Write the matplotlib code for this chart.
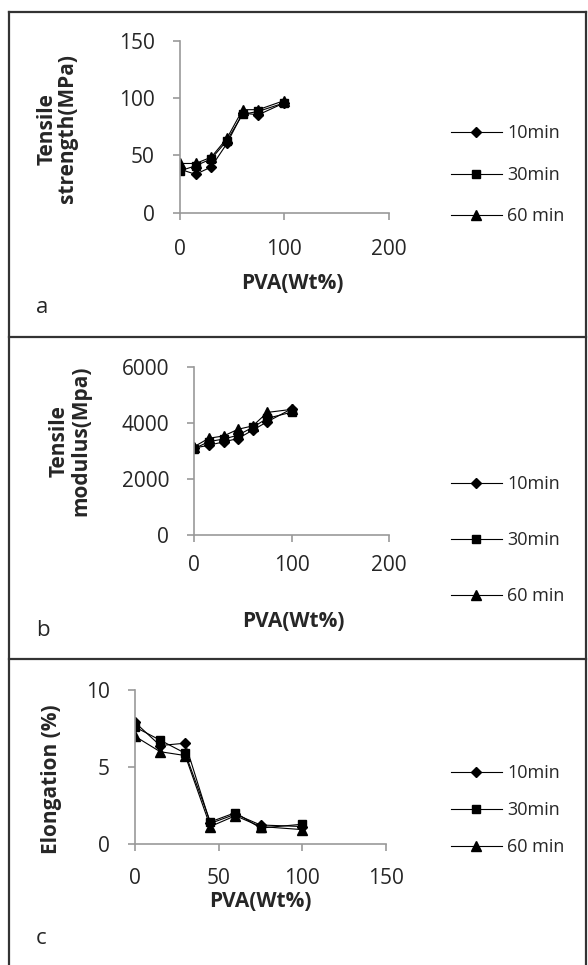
import matplotlib
matplotlib.use('Agg')
import matplotlib.pyplot as plt
from matplotlib.lines import Line2D

plt.rcParams['font.family'] = ['Open Sans', 'DejaVu Sans']

# data
pva = [0, 15, 30, 45, 60, 75, 100]
series_labels = ['10min', '30min', '60 min']

ts_10 = [38, 33.5, 40, 60.5, 87, 85.5, 96]
ts_30 = [36.5, 41, 47, 63, 86, 88.5, 96]
ts_60 = [43, 43, 48.5, 65, 90, 90, 98]

mod_10 = [3100, 3200, 3320, 3440, 3740, 4040, 4500]
mod_30 = [3080, 3330, 3420, 3560, 3840, 4160, 4380]
mod_60 = [3150, 3450, 3530, 3770, 3890, 4370, 4480]

el_10 = [7.9, 6.4, 6.55, 1.35, 1.95, 1.25, 1.15]
el_30 = [7.6, 6.75, 5.9, 1.45, 2.05, 1.05, 1.3]
el_60 = [7.0, 6.0, 5.75, 1.15, 1.85, 1.15, 0.95]

TEXT = '#262626'
AXIS = '#999999'
markers = [('D', 5.5), ('s', 6), ('^', 7)]

fig = plt.figure(figsize=(5.88, 9.65), dpi=100)

panels = [
    # rect, series, ylim, yticks, xlim, xticks, ylabel, label coords, xpad, legend y, spacing, tag, tag y
    ([0.306, 0.7796, 0.3554, 0.1779], [ts_10, ts_30, ts_60], (0, 150), [0, 50, 100, 150],
     (0, 200), [0, 100, 200], 'Tensile\nstrength(MPa)', (-0.486, 0.49), 14, 0.8187, 1.3, 'a', 308),
    ([0.3304, 0.4456, 0.3316, 0.1744], [mod_10, mod_30, mod_60], (0, 6000), [0, 2000, 4000, 6000],
     (0, 200), [0, 100, 200], 'Tensile\nmodulus(Mpa)', (-0.53, 0.56), 9.5, 0.4404, 2.1, 'b', 630),
    ([0.2296, 0.1251, 0.4269, 0.1599], [el_10, el_30, el_60], (0, 10), [0, 5, 10],
     (0, 150), [0, 50, 100, 150], 'Elongation (%)', (-0.29, 0.42), 12, 0.1606, 1.05, 'c', 938),
]

for rect, series, ylim, yticks, xlim, xticks, ylabel, lc, xpad, legy, spacing, tag, tagy in panels:
    ax = fig.add_axes(rect)
    for vals, (m, ms), lab in zip(series, markers, series_labels):
        ax.plot(pva, vals, color='black', lw=0.8, marker=m, ms=ms,
                mfc='black', mec='black', label=lab)
    ax.set_xlim(*xlim)
    ax.set_ylim(*ylim)
    ax.set_xticks(xticks)
    ax.set_yticks(yticks)
    for s in ['top', 'right']:
        ax.spines[s].set_visible(False)
    for s in ['left', 'bottom']:
        ax.spines[s].set_color(AXIS)
        ax.spines[s].set_linewidth(1.2)
    ax.tick_params(axis='both', direction='out', length=5, width=1.2, color=AXIS,
                   labelsize=15, labelcolor=TEXT)
    ax.tick_params(axis='y', pad=13)
    ax.tick_params(axis='x', pad=xpad)
    ax.set_ylabel(ylabel, fontsize=15, fontweight='bold', color=TEXT, linespacing=1.0)
    ax.yaxis.set_label_coords(*lc)
    ax.set_xlabel('PVA(Wt%)', fontsize=15, fontweight='bold', color=TEXT)
    ax.patch.set_alpha(0)
    leg = fig.legend(*ax.get_legend_handles_labels(), loc='center left',
                     bbox_to_anchor=(451 / 588, legy), frameon=False, fontsize=13,
                     handlelength=2.8, handletextpad=0.3, labelspacing=spacing,
                     borderpad=0, borderaxespad=0)
    for t in leg.get_texts():
        t.set_color(TEXT)
    fig.text(36 / 588, 1 - tagy / 965, tag, fontsize=16, color=TEXT, ha='left', va='center')

# x label positions
axes = fig.axes
axes[0].xaxis.set_label_coords(0.54, -0.35)
axes[1].xaxis.set_label_coords(0.51, -0.45)
axes[2].xaxis.set_label_coords(0.5, -0.30)

# panel frames
frame_kw = dict(color='#333333', lw=1.6, transform=fig.transFigure)
fig.add_artist(Line2D([9 / 588, 9 / 588], [0, 1 - 12 / 965], **frame_kw))
fig.add_artist(Line2D([586 / 588, 586 / 588], [0, 1 - 12 / 965], **frame_kw))
for yy in [12, 336.7, 659.3]:
    fig.add_artist(Line2D([9 / 588, 586 / 588], [1 - yy / 965] * 2, **frame_kw))

fig.savefig('out.png', dpi=100)
